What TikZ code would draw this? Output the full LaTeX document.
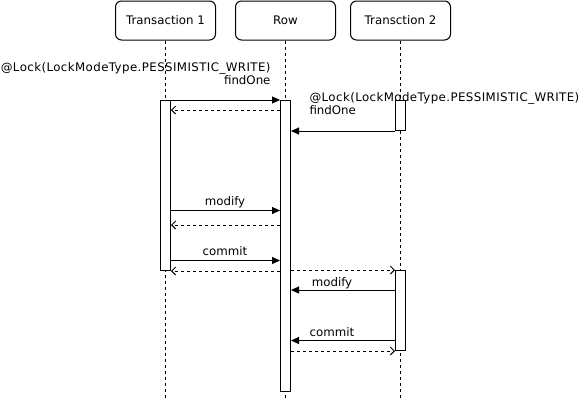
\documentclass[tikz,border=0pt]{standalone}
\usepackage{fontspec}
\setmainfont{DejaVu Sans}
\newfontfamily\widefont[LetterSpace=3.5]{DejaVu Sans}
\usetikzlibrary{arrows.meta}
\begin{document}
\begin{tikzpicture}[x=1pt,y=-1pt,line width=1pt,
  font=\fontsize{11.8}{12.5}\selectfont,
  head/.style={draw, rounded corners=6pt, minimum width=100pt, minimum height=39pt, inner sep=0pt},
  life/.style={dash pattern=on 3pt off 3pt},
  bar/.style={draw, fill=white, minimum width=10pt, inner sep=0pt, anchor=north},
  msg/.style={-{Triangle[length=8pt,width=7pt]}},
  ret/.style={dash pattern=on 3pt off 3pt, -{Straight Barb[length=4pt,width=8pt]}},
  lbl/.style={inner sep=0pt}
]
\fill[white] (0,0) rectangle (581,400);
\useasboundingbox (0,0) rectangle (581,400);

% headers
\node[head] (h1) at (165.5,20.5) {Transaction 1};
\node[head] (h2) at (285.5,20.5) {Row};
\node[head] (h3) at (400.5,20.5) {Transction 2};

% lifeline ends
\coordinate (e1) at (165.5,400);
\coordinate (e2) at (285.5,400);
\coordinate (e3) at (400.5,400);
\draw[life] (h1.south) -- (e1);
\draw[life] (h2.south) -- (e2);
\draw[life] (h3.south) -- (e3);

% activation bars
\node[bar, minimum height=170pt] (b1) at (165.5,100) {};
\node[bar, minimum height=290.5pt] (b2) at (285.5,100) {};
\node[bar, minimum height=30pt] (b3) at (400.5,100) {};
\node[bar, minimum height=80pt] (b4) at (400.5,270) {};

% messages
\draw[msg] (b1.north east) -- (b2.north west);
\draw[ret] (b2.west |- 0,110) -- (b1.east |- 0,110);
\draw[msg] (b3.south west) -- (b2.east |- b3.south);
\draw[msg] (b1.east |- 0,210.5) -- (b2.west |- 0,210.5);
\draw[ret] (b2.west |- 0,225) -- (b1.east |- 0,225);
\draw[msg] (b1.east |- 0,260.5) -- (b2.west |- 0,260.5);
\draw[ret] (b2.west |- b1.south) -- (b1.south east);
\draw[ret] (b2.east |- b4.north) -- (b4.north west);
\draw[msg] (b4.west |- 0,290) -- (b2.east |- 0,290);
\draw[msg] (b4.west |- 0,340.5) -- (b2.east |- 0,340.5);
\draw[ret] (b2.east |- b4.south) -- (b4.south west);

% labels
\node[lbl, align=right, anchor=base east] (t1) at (271,84) {{\widefont @Lock(LockModeType.PESSIMISTIC\_WRITE)}\\findOne};
\node[lbl, align=left, anchor=base west] (t2) at (309,114) {{\widefont @Lock(LockModeType.PESSIMISTIC\_WRITE)}\\findOne};
\node[lbl, anchor=base] (t3) at (225,205.5) {modify};
\node[lbl, anchor=base] (t4) at (225,255.5) {commit};
\node[lbl, anchor=base] (t5) at (332,286) {modify};
\node[lbl, anchor=base] (t6) at (332,336) {commit};
\end{tikzpicture}
\end{document}
